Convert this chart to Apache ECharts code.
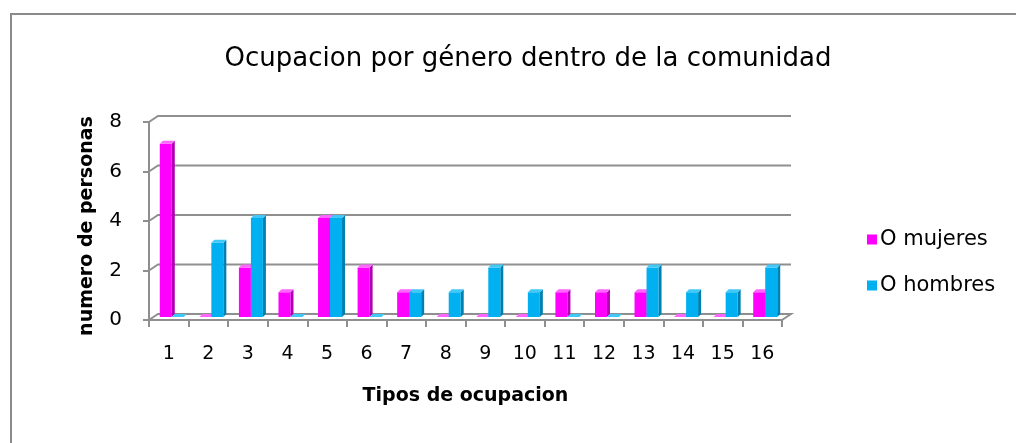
<!DOCTYPE html>
<html>
<head>
<meta charset="utf-8">
<script src="https://cdn.jsdelivr.net/npm/echarts@6/dist/echarts.min.js"></script>
<style>
  html, body { margin: 0; padding: 0; background: #fff; }
  #chart { width: 1016px; height: 443px; }
</style>
</head>
<body>
<div id="chart"></div>
<script>
const categories = ['1', '2', '3', '4', '5', '6', '7', '8', '9', '10', '11', '12', '13', '14', '15', '16'];
const mujeres = [7, 0, 2, 1, 4, 2, 1, 0, 0, 0, 1, 1, 1, 0, 0, 1];
const hombres = [0, 3, 4, 0, 4, 0, 1, 1, 2, 1, 0, 0, 2, 1, 1, 2];
const yTicks = [0, 2, 4, 6, 8];

const font = "'DejaVu Sans', 'Open Sans', sans-serif";
const gridColor = '#8f8f8f';
// back wall depth offset (px)
const DX = 9, DY = -6;

// faces: front, side (darker), top (lighter)
const PINK = {front: '#ff00ff', side: '#b000b0', top: '#ff66ff'};
const BLUE = {front: '#00b0f0', side: '#0080b0', top: '#40c8f8'};

function barRenderer(shade, slot) {
  return (params, api) => {
    const idx = api.value(0);
    const base = api.coord([idx, 0]);
    const top = api.coord([idx, api.value(1)]);
    const w = 12, sx = 3, sy = 3, ox = 3, oy = -3;
    const x0 = base[0] + (slot === 0 ? -w : 0) + ox;
    const yt = top[1] + oy, yb = base[1] + oy;
    return {
      type: 'group',
      children: [
        {type: 'polygon', shape: {points: [[x0 + w, yt], [x0 + w + sx, yt - sy], [x0 + w + sx, yb - sy], [x0 + w, yb]]},
          style: {fill: shade.side}},
        {type: 'rect', shape: {x: x0, y: yt, width: w, height: yb - yt}, style: {fill: shade.front}},
        {type: 'polygon', shape: {points: [[x0, yt], [x0 + sx, yt - sy], [x0 + w + sx, yt - sy], [x0 + w, yt]]},
          style: {fill: shade.top}},
      ],
    };
  };
}

const chart = echarts.init(document.getElementById('chart'));
chart.setOption({
  animation: false,
  backgroundColor: '#fff',
  graphic: [{
    type: 'rect', shape: {x: 11, y: 14, width: 1200, height: 600},
    style: {fill: 'none', stroke: '#8a8a8a', lineWidth: 2}, silent: true,
  }],
  title: {
    text: 'Ocupacion por género dentro de la comunidad',
    left: 523, top: 41, textAlign: 'center',
    textStyle: {fontFamily: font, fontSize: 26, fontWeight: 'normal', color: '#000'},
  },
  legend: {
    orient: 'vertical', left: 862, top: 224, itemGap: 25,
    icon: 'rect', itemWidth: 10, itemHeight: 10,
    data: ['O mujeres', 'O hombres'],
    textStyle: {fontFamily: font, fontSize: 21, color: '#000', padding: [0, 0, 0, -2]},
  },
  grid: {left: 149, right: 234, top: 122, bottom: 123},
  xAxis: {
    type: 'category', data: categories,
    name: 'Tipos de ocupacion', nameLocation: 'middle', nameGap: 67,
    nameTextStyle: {fontFamily: font, fontSize: 19, fontWeight: 'bold', color: '#000'},
    axisLine: {lineStyle: {color: gridColor, width: 2}},
    axisTick: {show: true, length: 7, lineStyle: {color: gridColor, width: 2}},
    axisLabel: {fontFamily: font, fontSize: 19, color: '#000', margin: 25},
  },
  yAxis: {
    type: 'value', min: 0, max: 8, interval: 2,
    name: 'numero de personas', nameLocation: 'middle', nameGap: 52,
    nameTextStyle: {fontFamily: font, fontSize: 19, fontWeight: 'bold', color: '#000', padding: [0, 10, 0, 0]},
    axisLine: {show: true, lineStyle: {color: gridColor, width: 2}},
    axisTick: {show: true, length: 6, lineStyle: {color: gridColor, width: 2}},
    axisLabel: {fontFamily: font, fontSize: 20, color: '#000', margin: 27},
    splitLine: {show: false},
  },
  series: [
    {
      // back wall gridlines with the short left-wall diagonal
      type: 'custom', silent: true, z: 1,
      data: yTicks.map(v => [0, v]),
      renderItem: (params, api) => {
        const cs = params.coordSys;
        const y = api.coord([0, api.value(1)])[1];
        const pts = [[cs.x, y], [cs.x + DX, y + DY], [cs.x + cs.width + DX, y + DY]];
        if (api.value(1) === 0) pts.push([cs.x + cs.width, y]);
        return {type: 'polyline', shape: {points: pts}, style: {stroke: gridColor, lineWidth: 2, fill: null}};
      },
    },
    {
      name: 'O mujeres', type: 'custom', z: 3,
      itemStyle: {color: PINK.front},
      data: mujeres.map((v, i) => [i, v]),
      renderItem: barRenderer(PINK, 0),
    },
    {
      name: 'O hombres', type: 'custom', z: 3,
      itemStyle: {color: BLUE.front},
      data: hombres.map((v, i) => [i, v]),
      renderItem: barRenderer(BLUE, 1),
    },
  ],
});
</script>
</body>
</html>
